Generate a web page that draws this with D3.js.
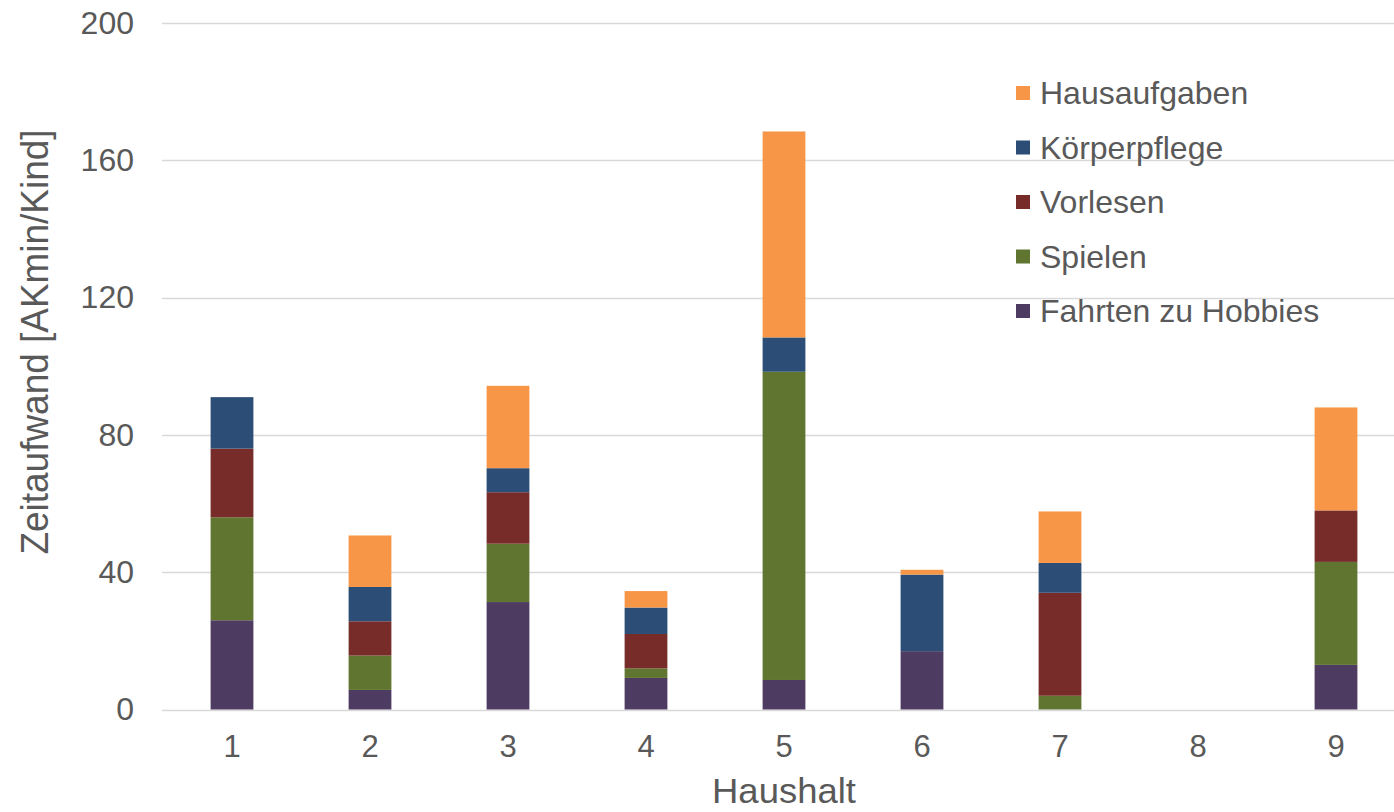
<!DOCTYPE html>
<html>
<head>
<meta charset="utf-8">
<script src="https://cdnjs.cloudflare.com/ajax/libs/d3/7.8.5/d3.min.js"></script>
<style>
  body { margin: 0; background: #fff; }
  svg { display: block; font-family: Arial, "Liberation Sans", sans-serif; }
  .tick text { fill: #595959; }
</style>
</head>
<body>
<svg id="chart" width="1394" height="812"></svg>
<script>
var households = ["1", "2", "3", "4", "5", "6", "7", "8", "9"];
var seriesNames = ["Fahrten zu Hobbies", "Spielen", "Vorlesen", "Körperpflege", "Hausaufgaben"];
var seriesColors = ["#4D3B62", "#5F7530", "#772C2A", "#2C4D75", "#F79646"];

var fahrten      = [26, 5.7, 31.3, 9.2, 8.6, 17, 0, 0, 13];
var spielen      = [30, 10, 17, 2.8, 89.8, 0, 4, 0, 30];
var vorlesen     = [20, 10, 15, 10, 0, 0, 30, 0, 15];
var koerper      = [15, 10, 7, 7.7, 10, 22.3, 8.7, 0, 0];
var hausaufgaben = [0, 15, 24, 4.8, 60, 1.4, 15, 0, 30];
var yTicks = [0, 40, 80, 120, 160, 200];

var seriesValues = [fahrten, spielen, vorlesen, koerper, hausaufgaben];

var rows = households.map(function (h, i) {
    var r = { haushalt: h };
    seriesNames.forEach(function (s, j) { r[s] = seriesValues[j][i]; });
    return r;
});

var svg = d3.select("#chart"),
    width = +svg.attr("width"),
    height = +svg.attr("height");

var x = d3.scaleBand()
    .domain(households)
    .range([163, 1405])
    .paddingInner(0.69)
    .paddingOuter(0.345);

var y = d3.scaleLinear()
    .domain([0, 200])
    .range([709.5, 23]);

// gridlines
svg.append("g")
    .selectAll("line")
    .data(yTicks)
    .enter()
    .append("line")
    .attr("x1", 162)
    .attr("x2", width)
    .attr("y1", function (d) { return Math.round(y(d)) + 0.5; })
    .attr("y2", function (d) { return Math.round(y(d)) + 0.5; })
    .attr("stroke", "#D9D9D9")
    .attr("stroke-width", 1.5);

var stack = d3.stack().keys(seriesNames)(rows);

svg.append("g")
    .selectAll("g")
    .data(stack)
    .enter()
    .append("g")
    .attr("fill", function (d, i) { return seriesColors[i]; })
    .selectAll("rect")
    .data(function (d) { return d; })
    .enter()
    .append("rect")
    .attr("x", function (d) { return x(d.data.haushalt); })
    .attr("width", x.bandwidth())
    .attr("y", function (d) { return y(d[1]); })
    .attr("height", function (d) { return Math.max(0, y(d[0]) - y(d[1])); });

// y axis
var yAxis = svg.append("g")
    .attr("transform", "translate(150,0)")
    .call(d3.axisLeft(y).tickValues(yTicks).tickSize(0).tickPadding(16));
yAxis.select(".domain").remove();
yAxis.selectAll("text")
    .attr("font-size", "32px")
    .attr("fill", "#595959");

// x axis
var xAxis = svg.append("g")
    .attr("transform", "translate(0,710)")
    .call(d3.axisBottom(x).tickSize(0).tickPadding(25));
xAxis.select(".domain").remove();
xAxis.selectAll("text")
    .attr("font-size", "31px")
    .attr("fill", "#595959");

// axis titles
svg.append("text")
    .attr("x", x("5") + x.bandwidth() / 2)
    .attr("y", 803)
    .attr("text-anchor", "middle")
    .attr("font-size", "35px")
    .attr("fill", "#595959")
    .attr("textLength", 144)
    .attr("lengthAdjust", "spacingAndGlyphs")
    .text("Haushalt");

svg.append("text")
    .attr("transform", "translate(48,342) rotate(-90)")
    .attr("text-anchor", "middle")
    .attr("font-size", "38px")
    .attr("fill", "#595959")
    .attr("textLength", 425)
    .attr("lengthAdjust", "spacingAndGlyphs")
    .text("Zeitaufwand [AKmin/Kind]");

// legend (top to bottom: last series first)
var legendOrder = seriesNames.slice().reverse();
var legend = svg.append("g")
    .selectAll("g")
    .data(legendOrder)
    .enter()
    .append("g")
    .attr("transform", function (d, i) { return "translate(1016," + (93 + i * 54.5) + ")"; });

legend.append("rect")
    .attr("x", 0)
    .attr("y", -7)
    .attr("width", 14)
    .attr("height", 14)
    .attr("fill", function (d) { return seriesColors[seriesNames.indexOf(d)]; });

legend.append("text")
    .attr("x", 24)
    .attr("y", 11)
    .attr("font-size", "32px")
    .attr("fill", "#595959")
    .text(function (d) { return d; });
</script>
</body>
</html>
